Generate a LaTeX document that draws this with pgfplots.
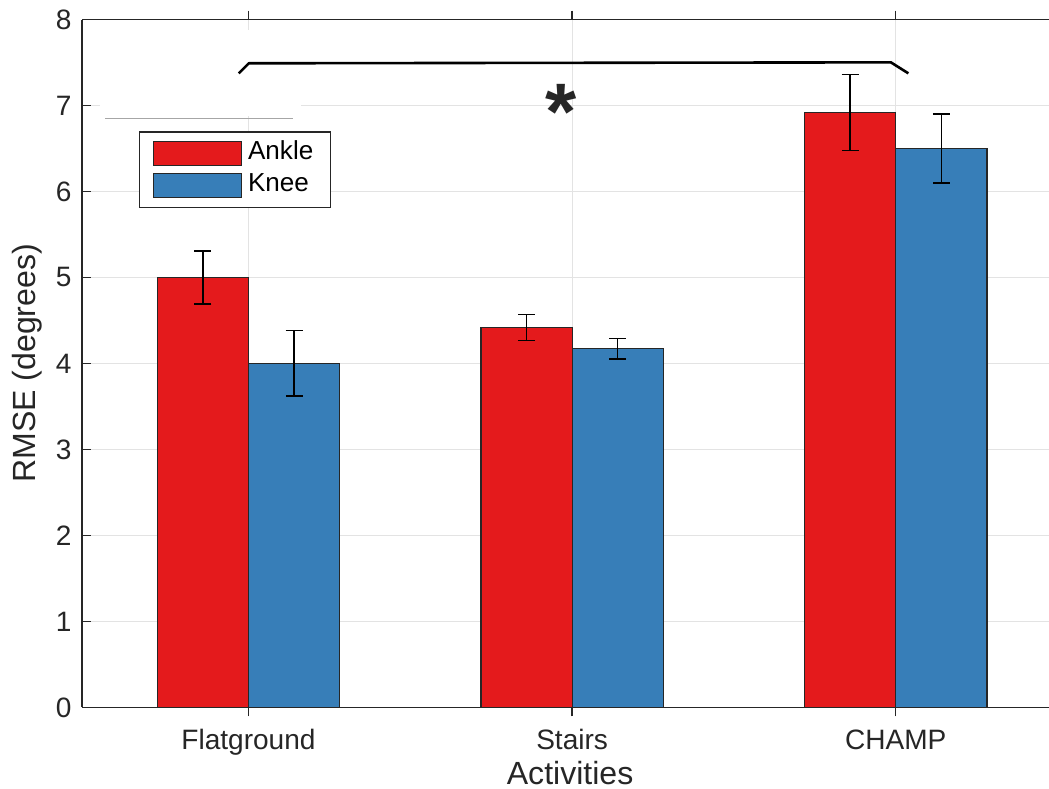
\documentclass[border=0pt]{standalone}
\usepackage{pgfplots}
\pgfplotsset{compat=1.18}
\usepackage{fontspec}
\setmainfont{Liberation Sans}

\definecolor{ankle}{HTML}{E41A1C}
\definecolor{knee}{HTML}{377EB8}
\definecolor{axisgray}{HTML}{262626}
\definecolor{gridgray}{HTML}{E3E3E3}

\begin{document}
\begin{tikzpicture}
\begin{axis}[
  name=ax,
  scale only axis,
  width=484.5pt, height=343.25pt,
  xmin=0.486, xmax=3.486,
  ymin=0, ymax=8,
  axis y line*=left,
  xtick={1,2,3},
  xticklabels={Flatground, Stairs, CHAMP},
  ytick={0,1,...,8},
  font=\fontsize{14}{16}\selectfont,
  /pgf/number format/assume math mode=true,
  tick label style={font=\fontsize{14}{16}\selectfont, color=axisgray},
  xticklabel style={anchor=base, yshift=-16.75pt},
  yticklabel style={xshift=-1.8pt},
  major tick length=4.5pt,
  tick align=inside,
  tick style={color=axisgray, line width=0.7pt},
  axis line style={color=axisgray, line width=0.8pt},
  xmajorgrids, ymajorgrids,
  major grid style={color=gridgray, line width=0.6pt},
  xlabel={Activities},
  ylabel={RMSE (degrees)},
  label style={font=\fontsize{16}{18}\selectfont},
  xlabel style={at={(axis description cs:0.5026,0)}, anchor=base, yshift=-38.3pt, color=axisgray},
  ylabel style={at={(axis description cs:-0.0568,0.5)}, anchor=center, color=axisgray},
  ybar,
  bar width=45.5pt,
  error bars/y dir=both,
  error bars/y explicit,
  error bars/error bar style={line width=0.7pt, color=black},
  error bars/error mark options={rotate=90, mark size=4.25pt, line width=0.7pt, color=black},
  legend cell align=left,
  legend image code/.code={\draw[#1, draw=axisgray, line width=0.6pt] (0pt,-6pt) rectangle (44pt,6pt);},
  legend style={at={(axis cs:0.662,6.70)}, anchor=north west,
    draw=axisgray, line width=0.6pt, fill=white,
    inner xsep=6.5pt, inner ysep=2.8pt,
    font=\fontsize{13}{15}\selectfont,
    nodes={inner sep=2pt, text height=9pt, text depth=3pt},
    /tikz/every odd column/.append style={column sep=1pt}},
]
% Ankle RMSE
\addplot[fill=ankle, draw=axisgray, line width=0.6pt, bar shift=-22.75pt]
  coordinates {(1,5.00) +- (0,0.31) (2,4.42) +- (0,0.15) (3,6.92) +- (0,0.44)};
% Knee RMSE
\addplot[fill=knee, draw=axisgray, line width=0.6pt, bar shift=22.75pt]
  coordinates {(1,4.00) +- (0,0.38) (2,4.17) +- (0,0.12) (3,6.50) +- (0,0.40)};
\legend{Ankle, Knee}

% blank patch with a thin rule under it
\fill[white] (axis cs:0.542,6.877) rectangle (axis cs:1.161,7.879);
\draw[color=black!35, line width=0.5pt] (axis cs:0.557,6.853) -- (axis cs:1.139,6.853);

% significance bracket
\draw[black, line width=1.3pt, line join=round]
  (axis cs:0.970,7.374) -- (axis cs:1.001,7.491) -- (axis cs:2.985,7.502) -- (axis cs:3.039,7.374);
\node[color=axisgray, font=\bfseries\fontsize{40}{40}\selectfont, inner sep=0pt]
  at (axis cs:1.966,6.92) {*};
\end{axis}
\pgfresetboundingbox
\path[use as bounding box] ([shift={(-41pt,-40.5pt)}]ax.south west) rectangle ([shift={(-2pt,9.75pt)}]ax.north east);
\end{tikzpicture}
\end{document}
